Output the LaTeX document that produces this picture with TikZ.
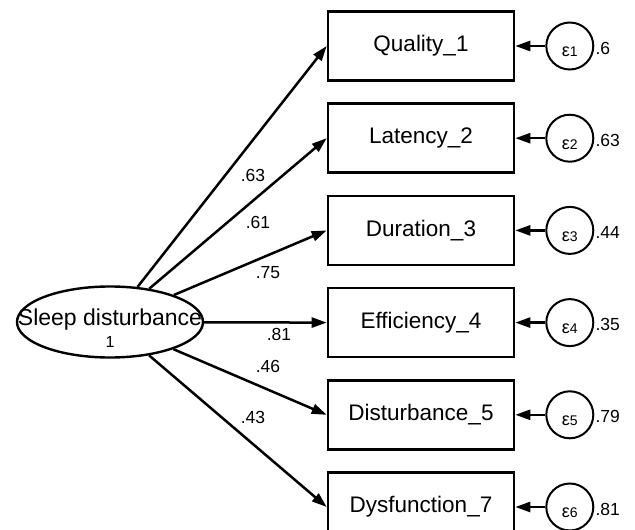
\documentclass[tikz,border=0pt]{standalone}
\usepackage{fontspec}
\setmainfont{Liberation Sans}
\usetikzlibrary{positioning,arrows.meta,shapes.geometric}
\tikzset{
    obsbox/.style={rectangle, draw, line width=2.6pt, minimum width=186pt, minimum height=69pt, inner sep=0pt, font=\fontsize{22.5}{22.5}\selectfont},
    errcirc/.style={circle, draw, line width=2pt, minimum size=47pt, inner sep=0pt},
    latent/.style={ellipse, draw, line width=2.4pt, minimum width=186pt, minimum height=71pt, inner sep=0pt},
    load_arrow/.style={line width=2.5pt, -{Triangle[length=15pt,width=10pt]}},
    err_arrow/.style={line width=2.5pt, -{Triangle[length=15pt,width=10pt]}}
}
\newcommand{\epsl}[1]{{\fontsize{18}{18}\selectfont ε\fontsize{14}{14}\selectfont #1}}

\begin{document}
\begin{tikzpicture}[
        x=1pt, y=-1pt,
        % --- CHỮ ---
        coef/.style={font=\fontsize{17.5}{17.5}\selectfont, inner sep=0pt},
        errval/.style={font=\fontsize{17.5}{17.5}\selectfont, inner sep=1pt, anchor=west},
        node distance=20.6pt
    ]
        \useasboundingbox (0,0) rectangle (635,530);

        % --- BIẾN QUAN SÁT ---
        \node[obsbox] (q1) at (421,46) {Quality\_1};
        \node[obsbox, below=of q1] (l2) {Latency\_2};
        \node[obsbox, below=of l2] (d3) {Duration\_3};
        \node[obsbox, below=of d3] (e4) {Efficiency\_4};
        \node[obsbox, below=of e4] (s5) {Disturbance\_5};
        \node[obsbox, below=of s5] (f7) {Dysfunction\_7};

        % --- BIẾN TIỀM ẨN ---
        \node[latent] (sd) at (110,322) {};
        \node[font=\fontsize{23}{23}\selectfont, inner sep=0pt] (sdtxt) at (110,320) {Sleep disturbance};
        \node[font=\fontsize{16}{16}\selectfont, inner sep=0pt] (sdvar) at (110,342) {1};

        % --- SAI SỐ ---
        \foreach \v/\k/\val in {q1/1/.6, l2/2/.63, d3/3/.44, e4/4/.35, s5/5/.79, f7/6/.81}{
            \node[errcirc, right=30pt of \v] (err\k) {};
            \node[inner sep=0pt] at ([yshift=-6pt]err\k.center) {\epsl{\k}};
            \node[errval] at ([yshift=-2pt]err\k.east) {\val};
            \draw[err_arrow] (err\k) -- (\v);
        }

        % --- HỆ SỐ TẢI ---
        \draw[load_arrow] (sd) -- (q1.west);
        \draw[load_arrow] (sd) -- (l2.west);
        \draw[load_arrow] (sd) -- (d3.west);
        \draw[load_arrow] (sd) -- (e4.west);
        \draw[load_arrow] (sd) -- (s5.west);
        \draw[load_arrow] (sd) -- (f7.west);

        \node[coef] (c1) at (253,175) {.63};
        \node[coef] (c2) at (258,222) {.61};
        \node[coef] (c3) at (268,273) {.75};
        \node[coef] (c4) at (279,334) {.81};
        \node[coef] (c5) at (268,366) {.46};
        \node[coef] (c6) at (253,417) {.43};

    \end{tikzpicture}
\end{document}
